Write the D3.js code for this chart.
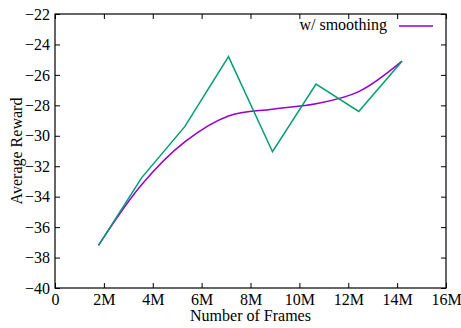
<!DOCTYPE html>
<html>
<head>
<meta charset="utf-8">
<script src="https://cdn.jsdelivr.net/npm/d3@7"></script>
<style>
  body { margin: 0; background: #fff; }
  svg text { font-family: "Liberation Serif", serif; font-size: 16px; fill: #000; }
</style>
</head>
<body>
<div id="chart"></div>
<script>
// Data
var frames = [1.78e6, 3.55e6, 5.31e6, 7.1e6, 8.9e6, 10.68e6, 12.43e6, 14.2e6];
var rawReward = [-37.2, -32.75, -29.4, -24.8, -31.05, -26.6, -28.4, -25.1];
var smoothReward = [-37.2, -33.2, -30.4, -28.7, -28.25, -27.9, -27.1, -25.1];
var xTicks = [0, 2e6, 4e6, 6e6, 8e6, 10e6, 12e6, 14e6, 16e6];
var xTickLabels = ["0", "2M", "4M", "6M", "8M", "10M", "12M", "14M", "16M"];
var yTicks = [-40, -38, -36, -34, -32, -30, -28, -26, -24, -22];

var W = 461, H = 328;
var margin = { top: 14, right: 15, bottom: 40, left: 55 },
  width = W - margin.left - margin.right,
  height = H - margin.top - margin.bottom;

var svg = d3.select("#chart")
  .append("svg")
  .attr("width", W)
  .attr("height", H)
  .append("g")
  .attr("transform", "translate(" + margin.left + "," + margin.top + ")");

var x = d3.scaleLinear().domain([0, 16e6]).range([0, width]);
var y = d3.scaleLinear().domain([-40, -22]).range([height, 0]);

var minus = s => String(s).replace("-", "\u2212");

// axes with inward ticks, mirrored on top/right
function styleAxis(g) {
  g.select(".domain").remove();
  g.selectAll(".tick line").attr("stroke", "#000");
  g.selectAll(".tick text")
    .style("font-family", "Liberation Serif, serif")
    .style("font-size", "16px");
}

svg.append("g")
  .attr("transform", "translate(0," + height + ")")
  .call(d3.axisBottom(x).tickValues(xTicks).tickSize(-5).tickPadding(6)
    .tickFormat((d, i) => xTickLabels[i]))
  .call(styleAxis);

svg.append("g")
  .call(d3.axisTop(x).tickValues(xTicks).tickSize(-5).tickFormat(""))
  .call(styleAxis);

svg.append("g")
  .call(d3.axisLeft(y).tickValues(yTicks).tickSize(-5).tickPadding(5).tickFormat(minus))
  .call(styleAxis);

svg.append("g")
  .attr("transform", "translate(" + width + ",0)")
  .call(d3.axisRight(y).tickValues(yTicks).tickSize(-5).tickFormat(""))
  .call(styleAxis);

// frame
svg.append("rect")
  .attr("width", width)
  .attr("height", height)
  .attr("fill", "none")
  .attr("stroke", "#000")
  .attr("stroke-width", 1.2);

// lines
var raw = frames.map((f, i) => [f, rawReward[i]]);
var smooth = frames.map((f, i) => [f, smoothReward[i]]);

svg.append("path")
  .datum(smooth)
  .attr("fill", "none")
  .attr("stroke", "#9400d3")
  .attr("stroke-width", 1.5)
  .attr("d", d3.line().x(d => x(d[0])).y(d => y(d[1])).curve(d3.curveCatmullRom.alpha(0.5)));

svg.append("path")
  .datum(raw)
  .attr("fill", "none")
  .attr("stroke", "#009e73")
  .attr("stroke-width", 1.5)
  .attr("d", d3.line().x(d => x(d[0])).y(d => y(d[1])));

// legend
svg.append("text")
  .attr("x", 332)
  .attr("y", 16)
  .attr("text-anchor", "end")
  .text("w/ smoothing");

svg.append("line")
  .attr("x1", 344).attr("x2", 378)
  .attr("y1", 12).attr("y2", 12)
  .attr("stroke", "#9400d3")
  .attr("stroke-width", 1.5);

// axis titles
svg.append("text")
  .attr("x", width / 2)
  .attr("y", height + 33)
  .attr("text-anchor", "middle")
  .text("Number of Frames");

svg.append("text")
  .attr("transform", "translate(" + (-33) + "," + (height / 2) + ") rotate(-90)")
  .attr("text-anchor", "middle")
  .text("Average Reward");
</script>
</body>
</html>
